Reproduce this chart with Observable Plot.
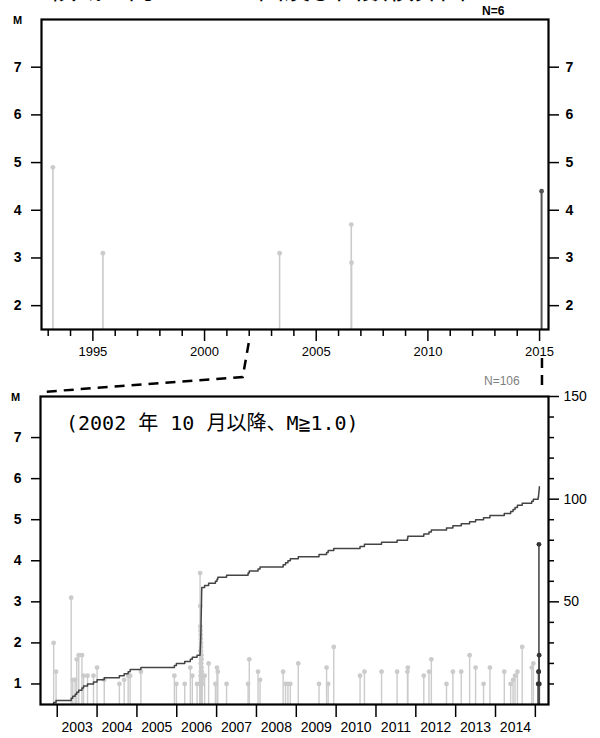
<!DOCTYPE html>
<html><head><meta charset="utf-8">
<script src="https://cdn.jsdelivr.net/npm/d3@7"></script>
<script src="https://cdn.jsdelivr.net/npm/@observablehq/plot@0.6"></script>
<style>
body{margin:0;background:#fff;}
#wrap{position:relative;width:600px;height:738px;overflow:hidden;font-family:"Liberation Sans",Arial,sans-serif;}
#wrap > svg, #wrap > figure{position:absolute;left:0;margin:0;}
.t{position:absolute;white-space:nowrap;line-height:1;}
</style></head><body><div id="wrap"></div>
<script>
// ---------- data ----------
const titleText = "領域ａ内のＭ－Ｔ図及び回数積算図";
const noteText = "(2002 年 10 月以降、M≧1.0)";
const topCountText = "N=6";
const bottomCountText = "N=106";

// long-term panel (M-T since 1993)
const longTimes = [1993.21, 1995.45, 2003.36, 2006.57, 2006.58, 2015.09];
const longMags  = [4.9,     3.1,     3.1,     3.7,     2.9,     4.4];
const longLatest = [false, false, false, false, false, true];

// short-term panel (since Oct 2002, M>=1.0)
const shortTimes = [
  2002.91, 2002.97, 2003.35, 2003.39, 2003.45, 2003.49, 2003.54, 2003.62, 2003.66, 2003.76,
  2003.91, 2004.00, 2004.18, 2004.56, 2004.68, 2004.78, 2004.83, 2005.10, 2005.94, 2005.99,
  2006.20, 2006.34, 2006.39, 2006.51,
  2006.585, 2006.588, 2006.590, 2006.592, 2006.594, 2006.596, 2006.598, 2006.600, 2006.602, 2006.603,
  2006.605, 2006.606, 2006.607, 2006.608, 2006.609, 2006.610, 2006.611, 2006.612, 2006.613, 2006.614,
  2006.615, 2006.616, 2006.617, 2006.618, 2006.619, 2006.620, 2006.621, 2006.622, 2006.623, 2006.624,
  2006.625, 2006.626, 2006.628,
  2006.70, 2006.80, 2006.97, 2007.01, 2007.03, 2007.25, 2007.79, 2007.82, 2008.04, 2008.09,
  2008.67, 2008.73, 2008.79, 2008.85, 2009.05,
  2009.57, 2009.76, 2009.80, 2009.94, 2010.60, 2010.71, 2011.14, 2011.53, 2011.79, 2011.80,
  2012.20, 2012.33, 2012.39, 2012.77, 2012.93, 2013.14, 2013.35, 2013.50, 2013.70, 2013.86,
  2014.22, 2014.38, 2014.44, 2014.49, 2014.55, 2014.67, 2014.91, 2014.95,
  2015.070, 2015.080, 2015.085, 2015.090, 2015.095, 2015.100
];
const shortMags = [
  2.0, 1.3, 3.1, 1.1, 1.1, 1.6, 1.7, 1.7, 1.2, 1.2,
  1.2, 1.4, 1.1, 1.0, 1.1, 1.2, 1.2, 1.3, 1.2, 1.0,
  1.0, 1.4, 1.2, 1.0,
  3.7, 1.0, 2.9, 2.4, 1.8, 2.3, 1.2, 2.2, 1.5, 2.1,
  1.3, 2.0, 1.1, 1.9, 1.0, 1.8, 1.7, 1.4, 1.6, 1.0,
  1.5, 1.3, 1.7, 1.2, 1.1, 1.4, 1.0, 1.6, 1.3, 1.2,
  1.1, 1.0, 1.0,
  1.2, 1.5, 1.0, 1.4, 1.3, 1.0, 1.0, 1.6, 1.3, 1.1,
  1.3, 1.0, 1.0, 1.0, 1.5,
  1.0, 1.4, 1.0, 1.9, 1.2, 1.3, 1.3, 1.3, 1.3, 1.4,
  1.2, 1.3, 1.6, 1.0, 1.3, 1.3, 1.7, 1.4, 1.0, 1.4,
  1.3, 1.0, 1.1, 1.2, 1.3, 1.9, 1.4, 1.5,
  1.0, 1.3, 1.3, 4.4, 1.7, 1.0
];
const latestFrom = 2015.0; // events drawn dark

const topYearTicksMajor = [1995, 2000, 2005, 2010, 2015];
const topYearTicksMinor = [1993,1994,1996,1997,1998,1999,2001,2002,2003,2004,2006,2007,2008,2009,2011,2012,2013,2014];
const magTicksTop = [2, 3, 4, 5, 6, 7];
const magTicksBottom = [1, 2, 3, 4, 5, 6, 7];
const yearBoundaries = [2003,2004,2005,2006,2007,2008,2009,2010,2011,2012,2013,2014,2015];
const yearLabels = [2003,2004,2005,2006,2007,2008,2009,2010,2011,2012,2013,2014];
const countTicksMajor = [50, 100, 150];
const countTicksMinor = [10, 20, 30, 40, 60, 70, 80, 90, 110, 120, 130, 140];

// ---------- build ----------
const longData = longTimes.map((t, i) => ({t, m: longMags[i], dark: longLatest[i]}));
const shortData = shortTimes.map((t, i) => ({t, m: shortMags[i], dark: t >= latestFrom}));
const sorted = shortData.slice().sort((a, b) => a.t - b.t);
const cum = [{t: sorted[0].t, n: 0}].concat(sorted.map((d, i) => ({t: d.t, n: i + 1})));

const LIGHT = "#cbcbcb", DARK = "#4a4a4a";
const font = "'Liberation Sans', Arial, sans-serif";
const wrap = document.getElementById("wrap");

const MB = 0.5; // bottom of M axis (lower panel)
const countToM = c => MB + c / 20; // 0..150 -> 0.5..8

const topPlot = Plot.plot({
  width: 600, height: 365,
  marginTop: 19, marginLeft: 41, marginRight: 52, marginBottom: 36,
  x: {domain: [1992.7, 2015.4], label: null},
  y: {domain: [1.5, 8], label: null},
  style: {fontFamily: font, fontSize: "14px", color: "#000", background: "transparent", overflow: "visible"},
  marks: [
    Plot.ruleX(longData.filter(d => !d.dark), {x: "t", y1: 1.5, y2: "m", stroke: LIGHT, strokeWidth: 1.6}),
    Plot.dot(longData.filter(d => !d.dark), {x: "t", y: "m", r: 2.4, fill: LIGHT}),
    Plot.ruleX(longData.filter(d => d.dark), {x: "t", y1: 1.5, y2: "m", stroke: "#555", strokeWidth: 2}),
    Plot.dot(longData.filter(d => d.dark), {x: "t", y: "m", r: 2.4, fill: "#555"}),
    Plot.axisX(topYearTicksMinor, {tickSize: 7, tickFormat: () => "", label: null}),
    Plot.axisX(topYearTicksMajor, {tickSize: 12, tickPadding: 5, tickFormat: d => String(d), label: null, fontSize: 13}),
    Plot.axisY(magTicksTop, {anchor: "left", tickSize: 10, tickPadding: 10, label: null, fontWeight: "bold", fontSize: 14}),
    Plot.axisY(magTicksTop, {anchor: "right", tickSize: 10, tickPadding: 7, label: null, fontWeight: "bold", fontSize: 14}),
    Plot.frame({stroke: "#000", strokeWidth: 2.2})
  ]
});
topPlot.style.top = "0px";
wrap.appendChild(topPlot);

const botPlot = Plot.plot({
  width: 600, height: 373,
  marginTop: 31, marginLeft: 40, marginRight: 52, marginBottom: 34,
  x: {domain: [2002.58, 2015.33], label: null},
  y: {domain: [MB, 8], label: null},
  style: {fontFamily: font, fontSize: "14px", color: "#000", background: "transparent", overflow: "visible"},
  marks: [
    Plot.ruleX(shortData.filter(d => !d.dark), {x: "t", y1: MB, y2: "m", stroke: LIGHT, strokeWidth: 1.4}),
    Plot.dot(shortData.filter(d => !d.dark), {x: "t", y: "m", r: 2.4, fill: LIGHT}),
    Plot.line(cum, {x: "t", y: d => countToM(d.n), curve: "step-after", stroke: "#444", strokeWidth: 1.5}),
    Plot.ruleX(shortData.filter(d => d.dark), {x: "t", y1: MB, y2: "m", stroke: DARK, strokeWidth: 1.6}),
    Plot.dot(shortData.filter(d => d.dark), {x: "t", y: "m", r: 2.4, fill: "#333"}),
    Plot.axisX(yearBoundaries, {tickSize: 13, tickFormat: () => "", label: null}),
    Plot.axisX(yearLabels.map(y => y + 0.5), {tickSize: 0, tickPadding: 18, tickFormat: d => String(Math.floor(d)), label: null, fontSize: 14}),
    Plot.axisY(magTicksBottom, {anchor: "left", tickSize: 9, tickPadding: 10, label: null, fontWeight: "bold", fontSize: 14}),
    Plot.axisY(countTicksMinor.map(countToM), {anchor: "right", tickSize: 5, tickFormat: () => "", label: null}),
    Plot.axisY(countTicksMajor.map(countToM), {anchor: "right", tickSize: 10, tickPadding: 5, label: null, fontSize: 14,
      tickFormat: v => String(Math.round((v - MB) * 20))}),
    Plot.frame({stroke: "#000", strokeWidth: 2.2})
  ]
});
botPlot.style.top = "365px";
wrap.appendChild(botPlot);

// thicker axis ticks
wrap.querySelectorAll('g[aria-label$="-axis tick"]').forEach(g => g.setAttribute("stroke-width", "1.5"));

// ---------- text overlays ----------
function addText(txt, css) {
  const d = document.createElement("div");
  d.className = "t";
  d.textContent = txt;
  Object.assign(d.style, css);
  wrap.appendChild(d);
  return d;
}
addText(titleText, {left: "50px", top: "-25px", fontSize: "26px", fontFamily: "'Noto Sans CJK JP', sans-serif"});
addText("M", {left: "13px", top: "15px", fontSize: "11px", fontWeight: "bold"});
addText("M", {left: "11px", top: "392px", fontSize: "11px", fontWeight: "bold"});
addText(topCountText, {left: "482px", top: "5px", fontSize: "12px", fontWeight: "bold"});
addText(bottomCountText, {left: "484px", top: "375px", fontSize: "12px", color: "#808080"});
addText(noteText, {left: "66px", top: "413px", fontSize: "20px", fontFamily: "'DejaVu Sans Mono', 'Noto Sans CJK JP', monospace"});

// ---------- zoom connectors (positions from the panels' scales) ----------
const xTop = topPlot.scale("x"), xBot = botPlot.scale("x");
const leftTopX = xTop.apply(2002.0);
const rightX = xTop.apply(2015.13);
const ns = "http://www.w3.org/2000/svg";
const ov = document.createElementNS(ns, "svg");
ov.setAttribute("width", 600); ov.setAttribute("height", 738);
ov.style.position = "absolute"; ov.style.left = "0"; ov.style.top = "0";
const p = document.createElementNS(ns, "path");
p.setAttribute("d", `M${leftTopX},343 L${leftTopX - 6},377 L${xBot.apply(2002.58) + 2},392`);
p.setAttribute("fill", "none"); p.setAttribute("stroke", "#000");
p.setAttribute("stroke-width", "2.5"); p.setAttribute("stroke-dasharray", "10,7");
ov.appendChild(p);
const p2 = document.createElementNS(ns, "path");
p2.setAttribute("d", `M${rightX},358 L${rightX},388`);
p2.setAttribute("fill", "none"); p2.setAttribute("stroke", "#000");
p2.setAttribute("stroke-width", "2.5"); p2.setAttribute("stroke-dasharray", "10,7");
ov.appendChild(p2);
wrap.appendChild(ov);
</script></body></html>
